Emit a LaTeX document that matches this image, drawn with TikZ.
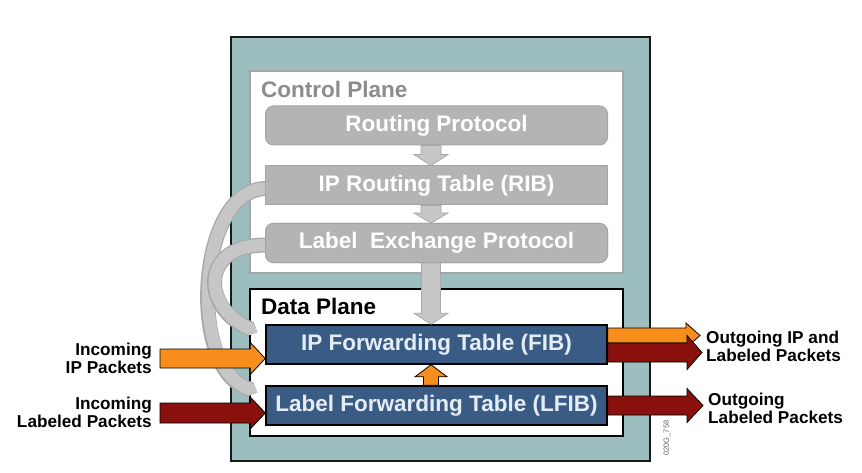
\documentclass[tikz,border=0pt]{standalone}
\usepackage{fontspec}
\setmainfont{Liberation Sans}
\usetikzlibrary{calc,arrows.meta}
\definecolor{teal1}{RGB}{156,190,190}
\definecolor{cpgray}{RGB}{180,180,180}
\definecolor{cpedge}{RGB}{165,165,165}
\definecolor{cptext}{RGB}{140,140,140}
\definecolor{fibblue}{RGB}{58,92,132}
\definecolor{fibtext}{RGB}{228,236,245}
\definecolor{orng}{RGB}{247,142,28}
\definecolor{dred}{RGB}{138,16,14}
\definecolor{arrgray}{RGB}{198,198,198}
\definecolor{arredge}{RGB}{168,168,168}
% horizontal block arrow: style, start, tip, shaft half, head half, signed head length
\newcommand{\harrow}[6]{\draw[#1] let \p1=#2, \p2=#3 in (\x1,\y1+#4) -- (\x2#6,\y1+#4) -- (\x2#6,\y1+#5) -- (\x2,\y1) -- (\x2#6,\y1-#5) -- (\x2#6,\y1-#4) -- (\x1,\y1-#4) -- cycle;}
% vertical block arrow
\newcommand{\varrow}[6]{\draw[#1] let \p1=#2, \p2=#3 in (\x1-#4,\y1) -- (\x1-#4,\y2#6) -- (\x1-#5,\y2#6) -- (\x1,\y2) -- (\x1+#5,\y2#6) -- (\x1+#4,\y2#6) -- (\x1+#4,\y1) -- cycle;}
\tikzset{
  boxfont/.style={font=\fontsize{22.5}{26}\selectfont\bfseries},
  headfont/.style={font=\fontsize{22.5}{26}\selectfont\bfseries},
  sidefont/.style={font=\fontsize{17.2}{18}\selectfont\bfseries},
  cpbox/.style={boxfont, fill=cpgray, draw=cpedge, line width=1pt, text=white, minimum width=342pt, minimum height=39pt, inner sep=0pt},
  dpbox/.style={boxfont, fill=fibblue, draw=black, line width=1.5pt, text=fibtext, minimum width=341pt, minimum height=39pt, inner sep=0pt},
  grayarrow/.style={fill=arrgray, draw=arredge, line width=0.8pt},
  orangearrow/.style={fill=orng, draw=black, line width=0.8pt},
  redarrow/.style={fill=dred, draw=black, line width=0.8pt},
  bandout/.style={line width=15pt, draw=arredge},
  bandin/.style={line width=12.5pt, draw=arrgray},
}
\begin{document}
\begin{tikzpicture}[x=1pt,y=-1pt]
\path[use as bounding box, fill=white] (0,0) rectangle (862,473);
% planes
\node[draw=black!90, line width=1.5pt, fill=teal1, minimum width=419pt, minimum height=424pt, inner sep=0pt] (router) at (440.5,249) {};
\node[draw=cpedge, line width=2pt, fill=white, minimum width=373pt, minimum height=202pt, inner sep=0pt] (cp) at (436.5,172) {};
\node[draw=black, line width=1.5pt, fill=white, minimum width=373pt, minimum height=147pt, inner sep=0pt] (dp) at (436.5,362.5) {};
\node[headfont, text=cptext, anchor=base west, inner sep=0pt] (cpl) at (261,98) {Control Plane};
\node[headfont, text=black, anchor=base west, inner sep=0pt] (dpl) at (261,314) {Data Plane};
% boxes
\node[cpbox, rounded corners=8pt] (rp) at (436.5,125.5) {Routing Protocol};
\node[cpbox] (rib) at (436.5,185.5) {IP Routing Table (RIB)};
\node[cpbox, rounded corners=8pt] (lep) at (436.5,243) {Label\ \ Exchange Protocol};
\node[dpbox] (fib) at (436.5,344.5) {IP Forwarding Table (FIB)};
\node[dpbox] (lfib) at (436.5,405.5) {Label Forwarding Table (LFIB)};
% curved gray connectors
\coordinate (aEnd) at ($(lfib.west)+(-8,-13)$);
\coordinate (bEnd) at ($(fib.west)+(-8,-12)$);
\draw[bandout, -{Triangle Cap}] ($(rib.west)+(1,3)$) .. controls (198,189) and (188,362) .. (aEnd);
\draw[bandin, -{Triangle Cap}] ($(rib.west)+(1,3)$) .. controls (198,189) and (188,362) .. (aEnd);
\draw[bandout, -{Triangle Cap}] ($(lep.west)+(1,2)$) .. controls (200,245) and (203,305) .. (bEnd);
\draw[bandin, -{Triangle Cap}] ($(lep.west)+(1,2)$) .. controls (200,245) and (203,305) .. (bEnd);
% redraw boxes on top of curve starts
\node[cpbox] at (rib) {IP Routing Table (RIB)};
\node[cpbox, rounded corners=8pt] at (lep) {Label\ \ Exchange Protocol};
\node[dpbox] at (fib) {IP Forwarding Table (FIB)};
\node[dpbox] at (lfib) {Label Forwarding Table (LFIB)};
% vertical arrows
\coordinate (ax) at (431,0);
\varrow{grayarrow}{(ax |- rp.south)}{(ax |- rib.north)}{10pt}{17pt}{+11pt}
\varrow{grayarrow}{(ax |- rib.south)}{(ax |- lep.north)}{10pt}{17pt}{+10pt}
\varrow{grayarrow}{(ax |- lep.south)}{(ax |- fib.north)}{9.5pt}{17pt}{+11pt}
\varrow{orangearrow}{(ax |- lfib.north)}{(ax |- fib.south)}{7.5pt}{16pt}{-12pt}
% incoming
\coordinate (inIP) at (160,358.5);
\coordinate (inLab) at (160,413);
\harrow{orangearrow}{(inIP)}{(inIP -| fib.west)}{9.5pt}{16pt}{-15pt}
\harrow{redarrow}{(inLab)}{(inLab -| lfib.west)}{10pt}{16pt}{-15pt}
% outgoing
\coordinate (outIP) at (700,335.5);
\coordinate (outLab1) at (702,352.5);
\coordinate (outLab2) at (703,405.5);
\harrow{orangearrow}{(fib.east |- outIP)}{(outIP)}{7.5pt}{12.5pt}{-14pt}
\harrow{redarrow}{(fib.east |- outLab1)}{(outLab1)}{9.5pt}{17pt}{-15pt}
\harrow{redarrow}{(lfib.east |- outLab2)}{(outLab2)}{9.5pt}{17pt}{-16pt}
% labels
\node[sidefont, align=right, anchor=east, inner sep=0pt] (lin1) at (152,358) {Incoming\\IP Packets};
\node[sidefont, align=right, anchor=east, inner sep=0pt] (lin2) at (152,412) {Incoming\\Labeled Packets};
\node[sidefont, align=left, anchor=west, inner sep=0pt] (lout1) at (706,346) {Outgoing IP and\\Labeled Packets};
\node[sidefont, align=left, anchor=west, inner sep=0pt] (lout2) at (708,408) {Outgoing\\Labeled Packets};
\node[rotate=90, font=\fontsize{7.5}{8}\selectfont, text=black!60, inner sep=0pt] (code) at (667,438) {020G\_758};
\end{tikzpicture}
\end{document}
